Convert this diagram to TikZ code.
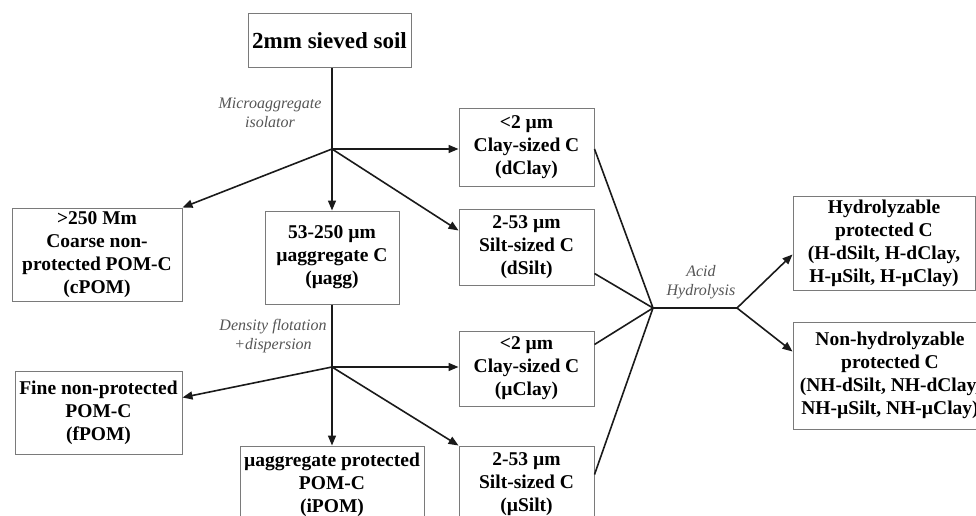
\documentclass[tikz,border=0pt]{standalone}
\usepackage{fontspec}
\setmainfont{Liberation Serif}
\usetikzlibrary{arrows.meta,calc}
\definecolor{boxgray}{HTML}{7A7A7A}
\definecolor{linedark}{HTML}{1A1A1A}
\definecolor{labgray}{HTML}{555555}
\begin{document}
\begin{tikzpicture}[x=1pt,y=-1pt,
  box/.style={draw=boxgray,line width=1pt,inner sep=0pt,align=center,
    font=\fontsize{19.5}{23}\selectfont\bfseries},
  conn/.style={draw=linedark,line width=1.6pt},
  arr/.style={conn,-{Triangle[length=10pt,width=8pt]}},
  lab/.style={align=center,text=labgray,font=\fontsize{16}{19.5}\selectfont\itshape}]
\useasboundingbox (0,0) rectangle (976,516);
\clip (0,0) rectangle (976,516);

\node[box,minimum width=163pt,minimum height=54pt,font=\fontsize{23}{27}\selectfont\bfseries] (top) at (329.5,41) {2mm sieved soil};
\node[box,minimum width=170pt,minimum height=93pt] (cpom) at (97,254.5) {>250 Mm\\Coarse non-\\protected POM-C\\(cPOM)};
\node[box,minimum width=134pt,minimum height=93pt] (uagg) at (332,257.5) {53-250 µm\\µaggregate C\\(µagg)};
\node[box,minimum width=135pt,minimum height=77pt] (dclay) at (526.5,147.5) {<2 µm\\Clay-sized C\\(dClay)};
\node[box,minimum width=135pt,minimum height=76pt] (dsilt) at (526.5,247) {2-53 µm\\Silt-sized C\\(dSilt)};
\node[box,minimum width=167pt,minimum height=83pt] (fpom) at (98.5,412.5) {Fine non-protected\\POM-C\\(fPOM)};
\node[box,minimum width=184pt,minimum height=78pt] (ipom) at (332,485) {µaggregate protected\\POM-C\\(iPOM)};
\node[box,minimum width=135pt,minimum height=75pt] (uclay) at (526.5,368.5) {<2 µm\\Clay-sized C\\(µClay)};
\node[box,minimum width=135pt,minimum height=77pt] (usilt) at (526.5,484.5) {2-53 µm\\Silt-sized C\\(µSilt)};
\node[box,minimum width=182pt,minimum height=94pt] (hydro) at (884,243) {Hydrolyzable\\protected C\\(H-dSilt, H-dClay,\\H-µSilt, H-µClay)};
\node[box,minimum width=194pt,minimum height=107pt] (nhydro) at (890,375.5) {Non-hydrolyzable\\protected C\\(NH-dSilt, NH-dClay,\\NH-µSilt, NH-µClay)};

\coordinate (j1) at (332,149);
\coordinate (j2) at (332,367);
\coordinate (j3) at (653,308);
\coordinate (j4) at (737,308);

\node[lab] (l1) at (270,113) {Microaggregate\\isolator};
\node[lab] (l2) at (273,336) {Density flotation\\+dispersion};
\node[lab] (l3) at (701,282) {Acid\\Hydrolysis};

% first fractionation
\draw[conn] (top.south -| j1) -- (j1);
\draw[arr] (j1) -- (cpom.north east);
\draw[arr] (j1) -- (uagg.north);
\draw[arr] (j1) -- (j1 -| dclay.west);
\draw[arr] (j1) -- ($(dsilt.north west)+(0,22)$);

% second fractionation
\draw[conn] (uagg.south) -- (j2);
\draw[arr] (j2) -- ($(fpom.north east)+(0,27)$);
\draw[arr] (j2) -- (ipom.north);
\draw[arr] (j2) -- (j2 -| uclay.west);
\draw[arr] (j2) -- (usilt.north west);

% acid hydrolysis
\draw[conn] ($(dclay.east)+(0,1.5)$) -- (j3);
\draw[conn] ($(dsilt.south east)+(0,-12)$) -- (j3);
\draw[conn] ($(uclay.north east)+(0,14)$) -- (j3);
\draw[conn] ($(usilt.north east)+(0,29)$) -- (j3);
\draw[conn] (j3) -- (j4);
\draw[arr] (j4) -- ($(hydro.south west)+(0,-36)$);
\draw[arr] (j4) -- ($(nhydro.north west)+(0,30)$);
\end{tikzpicture}
\end{document}
